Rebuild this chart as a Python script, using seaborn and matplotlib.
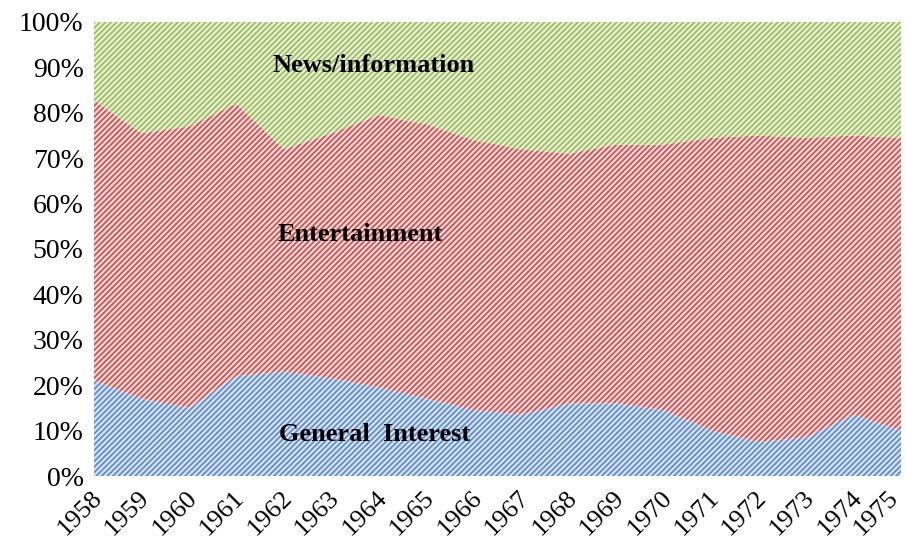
import numpy as np
import matplotlib
matplotlib.use("Agg")
import matplotlib.pyplot as plt
import matplotlib.transforms as mtransforms
import seaborn as sns
from matplotlib.ticker import PercentFormatter

# ------------------------------------------------------------------
# data (share of programming, %)
years = [1958, 1959, 1960, 1961, 1962, 1963, 1964, 1965, 1966,
         1967, 1968, 1969, 1970, 1971, 1972, 1973, 1974, 1975]
general_interest = [21.0, 17.0, 15.0, 22.0, 23.0, 21.5, 19.5, 17.0, 14.5,
                    13.5, 16.0, 16.0, 14.5, 10.0, 7.5, 8.5, 13.5, 10.0]
entertainment = [61.8, 58.5, 62.0, 60.0, 49.0, 54.0, 60.0, 60.5, 59.5,
                 58.5, 55.0, 57.0, 58.5, 64.5, 67.5, 66.0, 61.5, 64.5]
news_information = [100 - g - e for g, e in zip(general_interest, entertainment)]
series_names = ["General  Interest", "Entertainment", "News/information"]

# ------------------------------------------------------------------
sns.set_style("white")
plt.rcParams['font.family'] = ['Liberation Serif', 'DejaVu Serif']
plt.rcParams['hatch.linewidth'] = 1.2
plt.rcParams['text.color'] = 'black'
plt.rcParams['xtick.color'] = 'black'
plt.rcParams['ytick.color'] = 'black'

face_colors = ["#d5e1f0", "#f1d7d6", "#e6eed6"]
hatch_colors = ["#5b8ac6", "#c9504e", "#9bbb59"]

fig = plt.figure(figsize=(9.06, 5.44), dpi=100)
ax = fig.add_axes([0.1038, 0.125, 0.8907, 0.8346])

polys = ax.stackplot(years, general_interest, entertainment, news_information,
                     colors=face_colors, labels=series_names)
for poly, hc in zip(polys, hatch_colors):
    poly.set_hatch("//////")
    poly.set_edgecolor(hc)
    poly.set_linewidth(0)

ax.set_xlim(years[0], years[-1])
ax.set_ylim(0, 100)
ax.set_xticks(years)
ax.set_xticklabels([str(y) for y in years], rotation=45, ha="right",
                   rotation_mode="anchor", fontsize=19)
ax.set_yticks(np.arange(0, 101, 10))
ax.yaxis.set_major_formatter(PercentFormatter(decimals=0))
ax.tick_params(axis="y", labelsize=20, pad=4)
ax.tick_params(axis="x", pad=4)
sns.despine(ax=ax, left=True, bottom=True)

# nudge the year labels a little left; the last one more so it fits
xlabels = ax.get_xticklabels()
for i, lbl in enumerate(xlabels):
    dx = -14 if i == len(xlabels) - 1 else -3
    shift = mtransforms.ScaledTranslation(dx / 100, 0, fig.dpi_scale_trans)
    lbl.set_transform(lbl.get_transform() + shift)

# in-area series labels
ax.text(1963.9, 90.5, "News/information", ha="center", va="center",
        fontsize=19, fontweight="bold", color="black")
ax.text(1963.6, 53.3, "Entertainment", ha="center", va="center",
        fontsize=19, fontweight="bold", color="black")
ax.text(1963.9, 9.2, "General  Interest", ha="center", va="center",
        fontsize=19, fontweight="bold", color="black")

fig.savefig("out.png", dpi=100)
